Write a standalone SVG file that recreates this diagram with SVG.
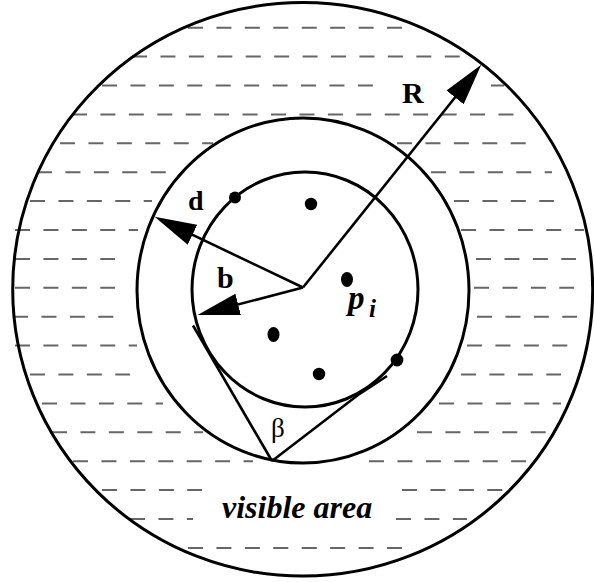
<svg xmlns="http://www.w3.org/2000/svg" width="594" height="582" viewBox="0 0 594 582">
  <style>
    .ring { fill: none; stroke: #000; stroke-width: 3; }
    .hatch { fill: none; stroke: #666; stroke-width: 2; stroke-dasharray: 15 13.43; }
    .conn { fill: none; stroke: #000; stroke-width: 2.6; }
    .dot { fill: #000; }
    .lbl { font-family: "Liberation Serif", "Times New Roman", serif; fill: #000; }
    .b { font-weight: bold; }
    .bi { font-weight: bold; font-style: italic; }
  </style>
  <defs>
    <marker id="head" markerUnits="userSpaceOnUse" markerWidth="44" markerHeight="24" viewBox="0 -11 42 22" refX="32" refY="0" orient="auto">
      <path d="M0,-10.5 L40,0 L0,10.5 Z" fill="#000"/>
    </marker>
  </defs>
  <rect width="594" height="582" fill="#fff"/>

  <g id="hatching">
    <path class="hatch" d="
      M188,27.7 H404
      M132,56.6 H461
      M102,85.5 H374 M491,85.5 H504
      M72,114.4 H517
      M60,143.3 H213 M397,143.3 H526
      M37,172.2 H167 M431,172.2 H552
      M30,201.1 H152 M454,201.1 H554
      M15,230 H138 M461,230 H584
      M15,258.9 H115 M476,258.9 H576
      M15,287.8 H115 M474,287.8 H574
      M13,316.7 H115 M477,316.7 H577
      M15,345.6 H137 M467,345.6 H569
      M30,374.5 H130 M461,374.5 H561
      M42,403.4 H163 M439,403.4 H561
      M52,432.3 H203 M417,432.3 H547
      M73,461.2 H253 M369,461.2 H527
      M102,490.1 H202 M402,490.1 H504
      M130,519 H193 M396,519 H467
      M188,547.9 H404"/>
  </g>

  <g id="outer-circle">
    <ellipse class="ring" cx="302.7" cy="289.3" rx="290" ry="286.8"/>
  </g>
  <g id="middle-circle">
    <ellipse class="ring" cx="303" cy="290.5" rx="166" ry="172.5"/>
  </g>
  <g id="inner-circle">
    <ellipse class="ring" cx="305" cy="289.5" rx="113" ry="117.5"/>
  </g>

  <g id="points">
    <circle class="dot" cx="235" cy="197.5" r="6"/>
    <circle class="dot" cx="311" cy="204" r="6.2"/>
    <ellipse class="dot" cx="347" cy="279.5" rx="6" ry="7.5"/>
    <ellipse class="dot" cx="273.5" cy="334.5" rx="6" ry="7.5"/>
    <circle class="dot" cx="319" cy="374" r="6.2"/>
    <circle class="dot" cx="397" cy="360" r="6.4"/>
  </g>

  <g id="connectors">
    <line class="conn" x1="303" y1="287.5" x2="476" y2="71.2" marker-end="url(#head)"/>
    <line class="conn" x1="303" y1="287.5" x2="162.2" y2="220.4" marker-end="url(#head)"/>
    <line class="conn" x1="303" y1="287.5" x2="205.7" y2="312.9" marker-end="url(#head)"/>
    <path class="conn" d="M193,325.5 L272,461"/>
    <path class="conn" d="M272,461 L358,395 Q372,386 387,376"/>
  </g>

  <g id="labels">
    <text class="lbl b" x="402" y="103" font-size="30">R</text>
    <text class="lbl b" x="188" y="210" font-size="28">d</text>
    <text class="lbl b" x="217" y="288" font-size="30">b</text>
    <text class="lbl bi" x="348" y="308.5" font-size="33">p</text>
    <text class="lbl bi" x="369" y="317" font-size="25">i</text>
    <text class="lbl" x="271" y="437" font-size="27">β</text>
    <text class="lbl bi" x="222" y="518" font-size="32">visible area</text>
  </g>
</svg>
